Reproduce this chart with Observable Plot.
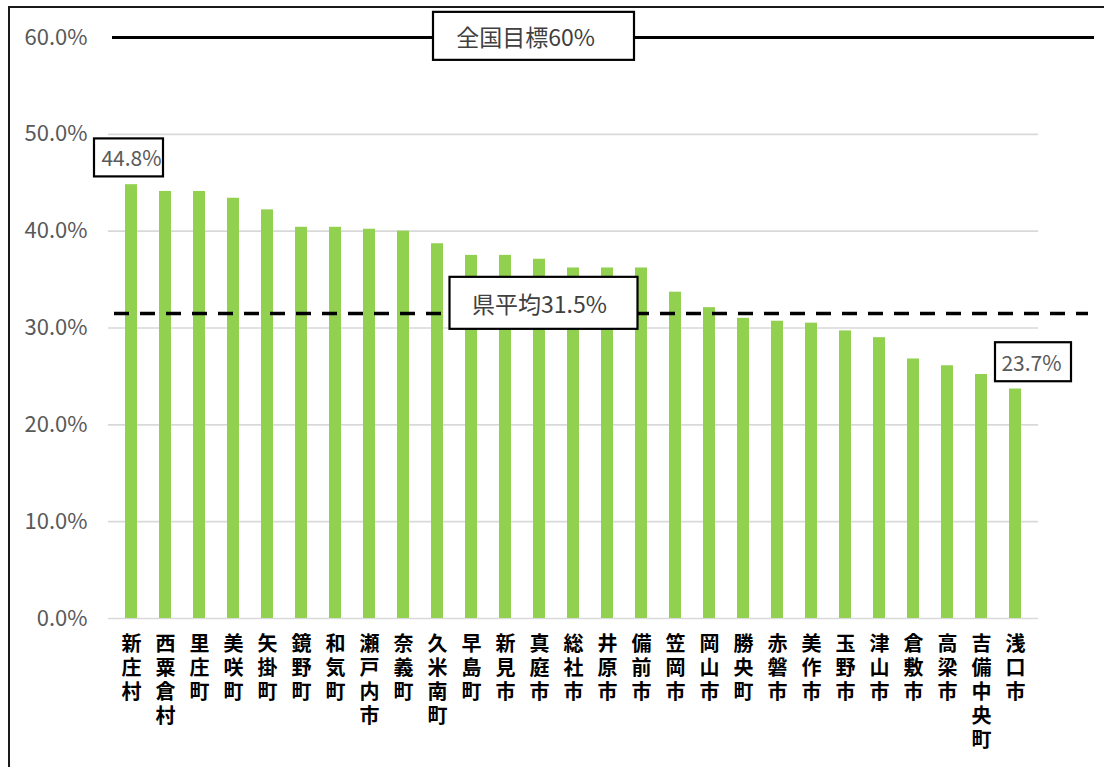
<!DOCTYPE html>
<html><head><meta charset="utf-8">
<script src="https://cdn.jsdelivr.net/npm/d3@7"></script>
<script src="https://cdn.jsdelivr.net/npm/@observablehq/plot@0.6"></script>
<style>
html,body{margin:0;padding:0;background:#fff;}
#wrap{position:relative;width:1104px;height:767px;overflow:hidden;}
#frame{position:absolute;left:8px;top:6px;width:1200px;height:900px;border:2.5px solid #1a1a1a;pointer-events:none;}
</style></head><body>
<div id="wrap"><div id="chart"></div><div id="frame"></div></div>
<script>
// ---- data ----
const municipalities = ["新庄村","西粟倉村","里庄町","美咲町","矢掛町","鏡野町","和気町","瀬戸内市","奈義町","久米南町","早島町","新見市","真庭市","総社市","井原市","備前市","笠岡市","岡山市","勝央町","赤磐市","美作市","玉野市","津山市","倉敷市","高梁市","吉備中央町","浅口市"];
const rates = [44.8,44.1,44.1,43.4,42.2,40.4,40.4,40.2,40.0,38.7,37.5,37.5,37.1,36.2,36.2,36.2,33.7,32.1,31.0,30.7,30.5,29.7,29.0,26.8,26.1,25.2,23.7];
const yTicks = [0,10,20,30,40,50,60];
const nationalTarget = 60;
const prefAverage = 31.5;
const targetLabel = "全国目標60%";
const averageLabel = "県平均31.5%";
const labelAnchor = "真庭市";

const data = municipalities.map((name, i) => ({name, rate: rates[i]}));
const first = data[0], last = data[data.length - 1];
const pct = d => d.toFixed(1) + "%";
const FONT = "'Noto Sans CJK JP', 'Noto Sans', sans-serif";

const chart = Plot.plot({
  width: 1104, height: 767,
  marginLeft: 108, marginRight: 66, marginTop: 37, marginBottom: 149,
  style: {fontFamily: FONT, background: "transparent", overflow: "visible"},
  x: {type: "band", domain: municipalities, paddingInner: 0.66, paddingOuter: 0.35, label: null},
  y: {domain: [0, 60], label: null},
  marks: [
    Plot.ruleY(yTicks.filter(t => t < nationalTarget), {stroke: "#d9d9d9", strokeWidth: 1.6}),
    Plot.barY(data, {x: "name", y: "rate", fill: "#92d050"}),
    Plot.ruleY([nationalTarget], {stroke: "#000", strokeWidth: 3, insetLeft: 4, insetRight: -56}),
    Plot.ruleY([prefAverage], {stroke: "#000", strokeWidth: 3.5, strokeDasharray: "15,11", insetLeft: 6, insetRight: -50}),
    Plot.axisY({ticks: yTicks, tickSize: 0, tickPadding: 21, tickFormat: pct, fontSize: 22, fill: "#595959", label: null}),
    Plot.axisX({tickSize: 0, tickPadding: 15, tickFormat: d => [...d].join("\n"), fontSize: 20, fontWeight: "bold", lineHeight: 1.2, fill: "#000", label: null}),
    Plot.text([{x: labelAnchor, y: nationalTarget, t: targetLabel}], {x: "x", y: "y", text: "t", dx: -14, dy: 1, fontSize: 23, fill: "#404040"}),
    Plot.text([{x: labelAnchor, y: prefAverage, t: averageLabel}], {x: "x", y: "y", text: "t", dx: 0, dy: -8, fontSize: 23, fill: "#404040"}),
    Plot.text([first], {x: "name", y: "rate", text: d => pct(d.rate), dy: -25, dx: 0, fontSize: 21, fill: "#595959"}),
    Plot.text([last], {x: "name", y: "rate", text: d => pct(d.rate), dy: -25, dx: 16, fontSize: 21, fill: "#595959"})
  ]
});
document.getElementById("chart").appendChild(chart);

// boxes behind annotation labels
const boxes = [
  {label: targetLabel, w: 201, h: 48, off: 8},
  {label: averageLabel, w: 188, h: 52, off: 4},
  {label: pct(first.rate), w: 69, h: 38, off: -3},
  {label: pct(last.rate), w: 76, h: 39, off: 1.5}
];
const texts = Array.from(chart.querySelectorAll("text"));
for (const b of boxes) {
  const t = texts.find(el => el.textContent === b.label);
  if (!t) continue;
  const bb = t.getBBox();
  const cx = bb.x + bb.width / 2 + b.off;
  const cy = bb.y + bb.height / 2;
  const r = document.createElementNS("http://www.w3.org/2000/svg", "rect");
  r.setAttribute("x", cx - b.w / 2);
  r.setAttribute("y", cy - b.h / 2);
  r.setAttribute("width", b.w);
  r.setAttribute("height", b.h);
  r.setAttribute("fill", "#fff");
  r.setAttribute("stroke", "#000");
  r.setAttribute("stroke-width", 2.2);
  const tr = t.getAttribute("transform");
  if (tr) r.setAttribute("transform", tr);
  t.parentNode.insertBefore(r, t);
}
</script>
</body></html>
